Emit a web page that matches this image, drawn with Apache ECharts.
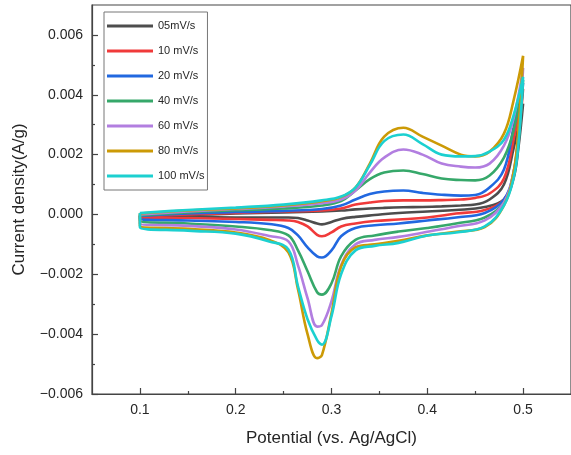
<!DOCTYPE html>
<html>
<head>
<meta charset="utf-8">
<script src="https://cdn.jsdelivr.net/npm/echarts@6/dist/echarts.min.js"></script>
<style>
  html, body { margin: 0; padding: 0; background: #fff; }
  #chart { width: 571px; height: 455px; }
</style>
</head>
<body>
<div id="chart"></div>
<script>
// CV loops: forward (anodic) scan 0.1 -> 0.5 V, then reverse scan back to 0.1 V.
var potentialFwd = [0.1, 0.15, 0.2, 0.25, 0.29, 0.31, 0.325, 0.34, 0.355, 0.375, 0.395, 0.415, 0.435, 0.45, 0.465, 0.48, 0.49, 0.5];
var potentialRev = [0.495, 0.49, 0.48, 0.46, 0.43, 0.4, 0.37, 0.345, 0.325, 0.31, 0.3, 0.29, 0.285, 0.275, 0.265, 0.255, 0.235, 0.2, 0.15, 0.1];

var rates = ['05mV/s', '10 mV/s', '20 mV/s', '40 mV/s', '60 mV/s', '80 mV/s', '100 mV/s'];
var colors = ['#4d4d4d', '#f03a3a', '#2168e0', '#36a86a', '#b27ee0', '#cc9a06', '#1cd0d0'];

// current density (A/g), forward branch
var fwd05  = [-0.00005, -0.00002, 0.00003, 0.00007, 0.0001, 0.00013, 0.00017, 0.0002, 0.00022, 0.00024, 0.00025, 0.00027, 0.0003, 0.00033, 0.0005, 0.001, 0.0022, 0.0037];
var fwd10  = [-0.00006, 0.0, 0.00005, 0.0001, 0.00013, 0.0002, 0.00033, 0.0004, 0.00045, 0.00047, 0.00047, 0.00048, 0.0005, 0.00055, 0.0007, 0.0012, 0.0025, 0.0042];
var fwd20  = [-0.00005, 0.00003, 0.00008, 0.00012, 0.00018, 0.0003, 0.0005, 0.00068, 0.00077, 0.0008, 0.00072, 0.00066, 0.00063, 0.00065, 0.0009, 0.0015, 0.0029, 0.0044];
var fwd40  = [-0.00003, 0.00007, 0.00014, 0.0002, 0.0003, 0.00045, 0.0008, 0.00118, 0.0014, 0.00147, 0.00135, 0.0012, 0.00115, 0.00114, 0.0013, 0.0019, 0.0028, 0.0045];
var fwd60  = [0.0, 0.0001, 0.00018, 0.00027, 0.00038, 0.0005, 0.0008, 0.0014, 0.0019, 0.00217, 0.002, 0.0017, 0.0016, 0.00157, 0.0017, 0.0023, 0.0032, 0.0049];
var fwd80  = [0.00003, 0.00013, 0.0002, 0.0003, 0.00044, 0.00058, 0.0009, 0.0017, 0.0026, 0.0029, 0.0026, 0.0023, 0.002, 0.00194, 0.0021, 0.0027, 0.0038, 0.0053];
var fwd100 = [0.00005, 0.00015, 0.00023, 0.00033, 0.00047, 0.0006, 0.0009, 0.00165, 0.00245, 0.00267, 0.00235, 0.002, 0.00194, 0.00195, 0.0021, 0.0025, 0.0033, 0.0046];

// current density (A/g), reverse branch
var rev05  = [0.0022, 0.0012, 0.0005, 0.00025, 0.00015, 0.0001, 0.00005, -0.00002, -0.00008, -0.00015, -0.00025, -0.00033, -0.0003, -0.0002, -0.00012, -0.0001, -0.0001, -0.0001, -0.00008, -0.00007];
var rev10  = [0.0025, 0.0013, 0.0005, 0.00015, 0.00003, -0.0001, -0.00017, -0.00022, -0.0003, -0.0004, -0.0006, -0.00073, -0.00068, -0.0004, -0.00025, -0.0002, -0.00018, -0.00015, -0.00012, -0.0001];
var rev20  = [0.0026, 0.0014, 0.0005, 0.00005, -0.0001, -0.0002, -0.0003, -0.00036, -0.00045, -0.00073, -0.0012, -0.00144, -0.0014, -0.0011, -0.0007, -0.00045, -0.00032, -0.00025, -0.0002, -0.00015];
var rev40  = [0.0024, 0.0013, 0.0004, -0.0001, -0.0003, -0.00045, -0.00057, -0.0007, -0.00085, -0.0014, -0.0023, -0.00268, -0.0026, -0.0019, -0.0012, -0.0007, -0.00052, -0.0004, -0.0003, -0.0002];
var rev60  = [0.0026, 0.0014, 0.0004, -0.0002, -0.0004, -0.00058, -0.00075, -0.00085, -0.001, -0.0017, -0.0029, -0.0037, -0.00375, -0.0028, -0.0017, -0.0009, -0.00072, -0.0005, -0.00038, -0.0003];
var rev80  = [0.0028, 0.0014, 0.0003, -0.00042, -0.00058, -0.0007, -0.00088, -0.001, -0.0011, -0.00174, -0.0033, -0.0047, -0.0048, -0.004, -0.0025, -0.00127, -0.00085, -0.0006, -0.00048, -0.00038];
var rev100 = [0.0023, 0.0012, 0.0003, -0.0004, -0.0006, -0.0007, -0.00095, -0.00105, -0.0012, -0.002, -0.0034, -0.00435, -0.0042, -0.0035, -0.0024, -0.00117, -0.0009, -0.00064, -0.00054, -0.00043];

var fwdAll = [fwd05, fwd10, fwd20, fwd40, fwd60, fwd80, fwd100];
var revAll = [rev05, rev10, rev20, rev40, rev60, rev80, rev100];

var xMajor = [0.1, 0.2, 0.3, 0.4, 0.5];
var xMinor = [0.15, 0.25, 0.35, 0.45];
var yMajor = [-0.006, -0.004, -0.002, 0, 0.002, 0.004, 0.006];
var yMinor = [-0.005, -0.003, -0.001, 0.001, 0.003, 0.005];

function loop(fwd, rev) {
  var pts = potentialFwd.map(function (e, i) { return [e, fwd[i]]; })
    .concat(potentialRev.map(function (e, i) { return [e, rev[i]]; }));
  pts.push(pts[0]);
  return pts;
}

var ink = '#262626';
var axisColor = '#444';
var font = '"Liberation Sans", Arial, sans-serif';

var chart = echarts.init(document.getElementById('chart'), null, { renderer: 'canvas' });

chart.setOption({
  animation: false,
  textStyle: { fontFamily: font, color: ink },
  grid: { left: 92, top: 5, width: 483, height: 389, show: true, borderColor: axisColor, borderWidth: 1.2, backgroundColor: 'transparent' },
  legend: {
    orient: 'vertical',
    left: 104, top: 12,
    padding: [7, 3, 7, 3],
    itemGap: 11,
    itemWidth: 46, itemHeight: 3,
    icon: 'rect',
    borderColor: '#777', borderWidth: 1,
    textStyle: { fontSize: 11, lineHeight: 14, color: ink, fontFamily: font },
    data: rates
  },
  xAxis: [{
    type: 'value', min: 0.05, max: 0.55,
    name: 'Potential (vs. Ag/AgCl)', nameLocation: 'middle', nameGap: 36,
    nameTextStyle: { fontSize: 17, color: ink },
    axisLine: { onZero: false, lineStyle: { color: axisColor, width: 1.2 } },
    axisTick: { inside: true, length: 6, customValues: xMajor, lineStyle: { color: axisColor, width: 1.2 } },
    axisLabel: { customValues: xMajor, fontSize: 14, color: ink, margin: 9, formatter: function (v) { return v.toFixed(1); } },
    splitLine: { show: false }
  }, {
    type: 'value', min: 0.05, max: 0.55, position: 'bottom',
    axisLine: { show: false, onZero: false },
    axisTick: { inside: true, length: 3, customValues: xMinor, lineStyle: { color: axisColor, width: 1.2 } },
    axisLabel: { show: false },
    splitLine: { show: false }
  }],
  yAxis: [{
    type: 'value', min: -0.006, max: 0.007,
    name: 'Current density(A/g)', nameLocation: 'middle', nameGap: 64,
    nameTextStyle: { fontSize: 17, color: ink },
    axisLine: { show: true, onZero: false, lineStyle: { color: axisColor, width: 1.2 } },
    axisTick: { show: true, inside: true, length: 6, customValues: yMajor, lineStyle: { color: axisColor, width: 1.2 } },
    axisLabel: {
      customValues: yMajor, fontSize: 14, color: ink, margin: 9,
      formatter: function (v) { return (v < 0 ? '\u2212' : '') + Math.abs(v).toFixed(3); }
    },
    splitLine: { show: false }
  }, {
    type: 'value', min: -0.006, max: 0.007, position: 'left',
    axisLine: { show: false, onZero: false },
    axisTick: { show: true, inside: true, length: 3, customValues: yMinor, lineStyle: { color: axisColor, width: 1.2 } },
    axisLabel: { show: false },
    splitLine: { show: false }
  }],
  series: rates.map(function (name, i) {
    return {
      name: name, type: 'line',
      xAxisIndex: 0, yAxisIndex: 0,
      data: loop(fwdAll[i], revAll[i]),
      showSymbol: false, smooth: 0.4,
      color: colors[i],
      lineStyle: { width: 2.6, color: colors[i] }
    };
  })
});
</script>
</body>
</html>
